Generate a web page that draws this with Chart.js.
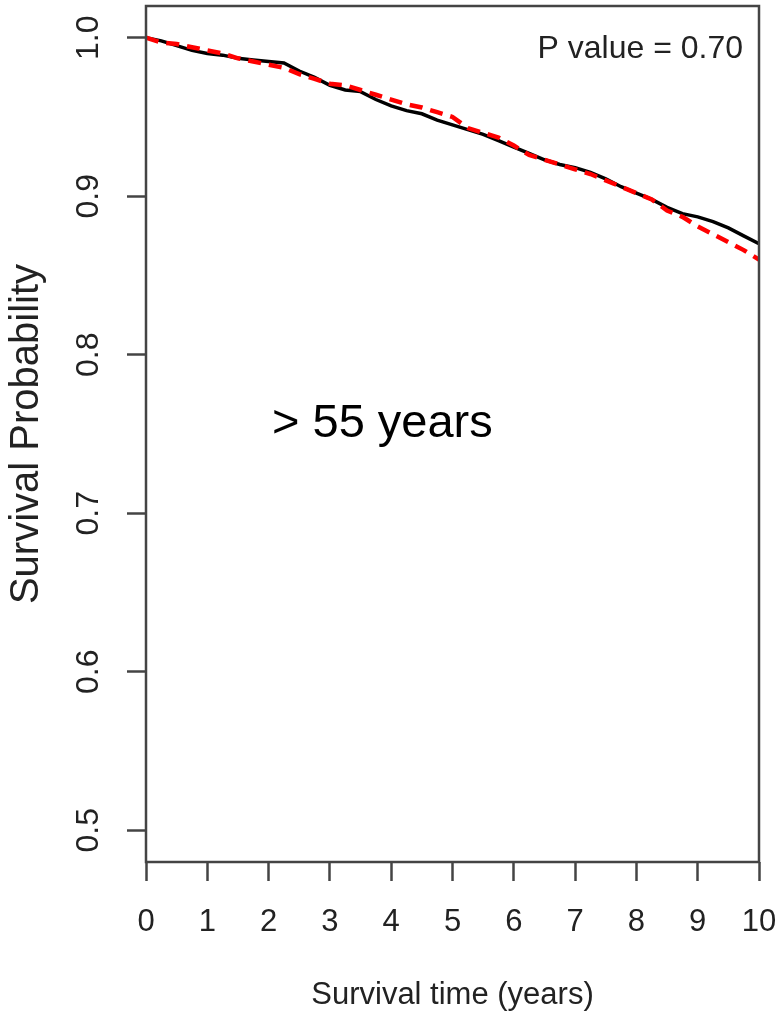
<!DOCTYPE html>
<html>
<head>
<meta charset="utf-8">
<script src="https://cdn.jsdelivr.net/npm/chart.js@4.4.1/dist/chart.umd.min.js"></script>
<style>
    html, body { margin: 0; padding: 0; background: #fff; }
    #wrap { width: 778px; height: 1014px; }
</style>
</head>
<body>
<div id="wrap"><canvas id="km" width="778" height="1014"></canvas></div>

<script>
    // survival curves, every quarter year
    const years = [0, 0.25, 0.5, 0.75, 1, 1.25, 1.5, 1.75, 2, 2.25, 2.5, 2.75, 3, 3.25, 3.5, 3.75, 4, 4.25, 4.5, 4.75,
        5, 5.25, 5.5, 5.75, 6, 6.25, 6.5, 6.75, 7, 7.25, 7.5, 7.75, 8, 8.25, 8.5, 8.75, 9, 9.25, 9.5, 9.75, 10];
    const survBlack = [1.000, 0.998, 0.995, 0.992, 0.990, 0.989, 0.987, 0.986, 0.985, 0.984, 0.979, 0.975, 0.970, 0.967,
        0.966, 0.961, 0.957, 0.954, 0.952, 0.948, 0.945, 0.942, 0.939, 0.935, 0.931, 0.927, 0.923, 0.920, 0.918, 0.915,
        0.911, 0.906, 0.902, 0.898, 0.893, 0.889, 0.887, 0.884, 0.880, 0.875, 0.870];
    const survRed = [1.000, 0.997, 0.996, 0.994, 0.992, 0.990, 0.987, 0.985, 0.983, 0.981, 0.977, 0.974, 0.971, 0.970,
        0.967, 0.964, 0.961, 0.958, 0.956, 0.953, 0.950, 0.943, 0.940, 0.937, 0.932, 0.926, 0.923, 0.920, 0.917, 0.914,
        0.910, 0.906, 0.902, 0.898, 0.891, 0.887, 0.881, 0.876, 0.871, 0.866, 0.860];
    const xTicks = [0, 1, 2, 3, 4, 5, 6, 7, 8, 9, 10];
    const yTicks = [0.5, 0.6, 0.7, 0.8, 0.9, 1.0];
    const pText = 'P value = 0.70';
    const groupText = '> 55 years';

    const ink = '#222';
    const axisCol = '#444';
    const fam = '"Liberation Sans", Arial, sans-serif';

    function pts(ys) {
        return years.map((t, i) => ({ x: t, y: ys[i] }));
    }

    // box round the plot, rotated y labels, the two notes
    const extras = {
        id: 'extras',
        afterDraw(chart) {
            const ctx = chart.ctx;
            const a = chart.chartArea;
            const ys = chart.scales.y;
            ctx.save();
            ctx.strokeStyle = axisCol;
            ctx.lineWidth = 2.5;
            ctx.strokeRect(a.left, a.top, a.right - a.left, a.bottom - a.top);

            ctx.fillStyle = ink;
            ctx.font = '32px ' + fam;
            ctx.textAlign = 'center';
            ctx.textBaseline = 'middle';
            yTicks.forEach(v => {
                ctx.save();
                ctx.translate(89, ys.getPixelForValue(v));
                ctx.rotate(-Math.PI / 2);
                ctx.fillText(v.toFixed(1), 0, 0);
                ctx.restore();
            });

            ctx.textBaseline = 'alphabetic';
            ctx.textAlign = 'right';
            ctx.font = '32px ' + fam;
            ctx.fillText(pText, a.right - 16, a.top + 52);

            ctx.textAlign = 'left';
            ctx.fillStyle = '#000';
            ctx.font = '47px ' + fam;
            ctx.fillText(groupText, 272, 437);
            ctx.restore();
        }
    };

    new Chart(document.getElementById('km').getContext('2d'), {
        type: 'line',
        data: {
            datasets: [
                {
                    label: 'black',
                    data: pts(survBlack),
                    borderColor: '#000',
                    borderWidth: 3.5,
                    pointRadius: 0,
                    tension: 0,
                    order: 1
                },
                {
                    label: 'red',
                    data: pts(survRed),
                    borderColor: '#f00',
                    borderWidth: 4.5,
                    borderDash: [13, 8],
                    pointRadius: 0,
                    tension: 0,
                    order: 0
                }
            ]
        },
        options: {
            responsive: false,
            animation: false,
            layout: { padding: { top: 6, right: 19, left: 0, bottom: 0 } },
            plugins: { legend: { display: false }, tooltip: { enabled: false } },
            scales: {
                x: {
                    type: 'linear',
                    min: 0,
                    max: 10,
                    afterBuildTicks: s => { s.ticks = xTicks.map(v => ({ value: v })); },
                    afterFit: s => { s.height = 152; s.paddingLeft = 0; s.paddingRight = 0; },
                    border: { display: false },
                    grid: { drawOnChartArea: false, drawTicks: true, tickLength: 19, tickWidth: 2.5, tickColor: axisCol },
                    ticks: {
                        color: ink,
                        padding: 23,
                        maxRotation: 0,
                        font: { family: fam, size: 31 }
                    },
                    title: {
                        display: true,
                        text: 'Survival time (years)',
                        color: ink,
                        padding: { top: 0, bottom: 0 },
                        font: { family: fam, size: 31 }
                    }
                },
                y: {
                    type: 'linear',
                    min: 0.48,
                    max: 1.02,
                    afterBuildTicks: s => { s.ticks = yTicks.map(v => ({ value: v })); },
                    afterFit: s => { s.width = 146; s.paddingTop = 0; s.paddingBottom = 0; },
                    border: { display: false },
                    grid: { drawOnChartArea: false, drawTicks: true, tickLength: 19, tickWidth: 2.5, tickColor: axisCol },
                    ticks: { display: false },
                    title: {
                        display: true,
                        text: 'Survival Probability',
                        color: ink,
                        padding: { top: 3, bottom: 0 },
                        font: { family: fam, size: 40 }
                    }
                }
            }
        },
        plugins: [extras]
    });
</script>
</body>
</html>
